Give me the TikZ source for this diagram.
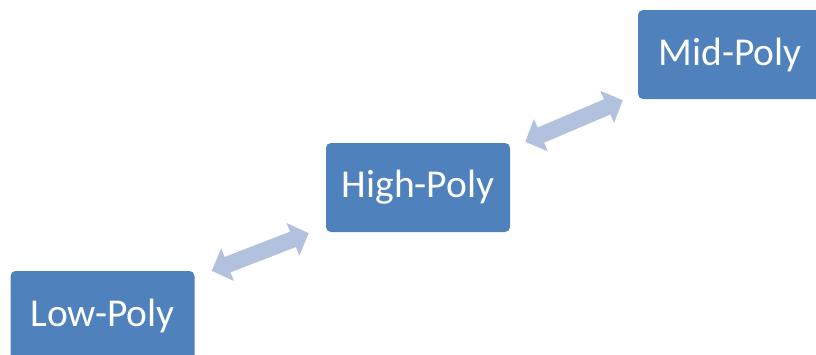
\documentclass[tikz,border=0pt]{standalone}
\usepackage{fontspec}
\setmainfont{Carlito}
\usetikzlibrary{arrows.meta}
\definecolor{boxblue}{RGB}{79,129,189}
\definecolor{arrowblue}{RGB}{178,194,222}
\begin{document}
\begin{tikzpicture}[x=1pt,y=-1pt,
  polybox/.style={fill=boxblue, draw=none, rounded corners=5pt, minimum width=184pt, minimum height=89pt, inner sep=0pt, text=white, font=\fontsize{39.5}{45}\selectfont},
  dblarrow/.style={draw=arrowblue, line width=16.5pt, {Triangle[width=34pt,length=17pt]}-{Triangle[width=34pt,length=17pt]}}]
\useasboundingbox (0,0) rectangle (816,354);
\begin{scope}
\clip (0,0) rectangle (816,354);
\node[polybox] (low) at (102.5,315.5) {Low-Poly};
\node[polybox] (high) at (418,187.5) {High-Poly};
\node[polybox] (mid) at (730,54.5) {Mid-Poly};
\end{scope}
\coordinate (a1) at ([xshift=17pt]low.north east);
\coordinate (a2) at ([xshift=-17pt,yshift=-1pt]high.south west);
\coordinate (b1) at ([xshift=15pt,yshift=1pt]high.north east);
\coordinate (b2) at ([xshift=-15pt,yshift=-1pt]mid.south west);
\draw[dblarrow] (a1) -- (a2);
\draw[dblarrow] (b1) -- (b2);
\end{tikzpicture}
\end{document}
